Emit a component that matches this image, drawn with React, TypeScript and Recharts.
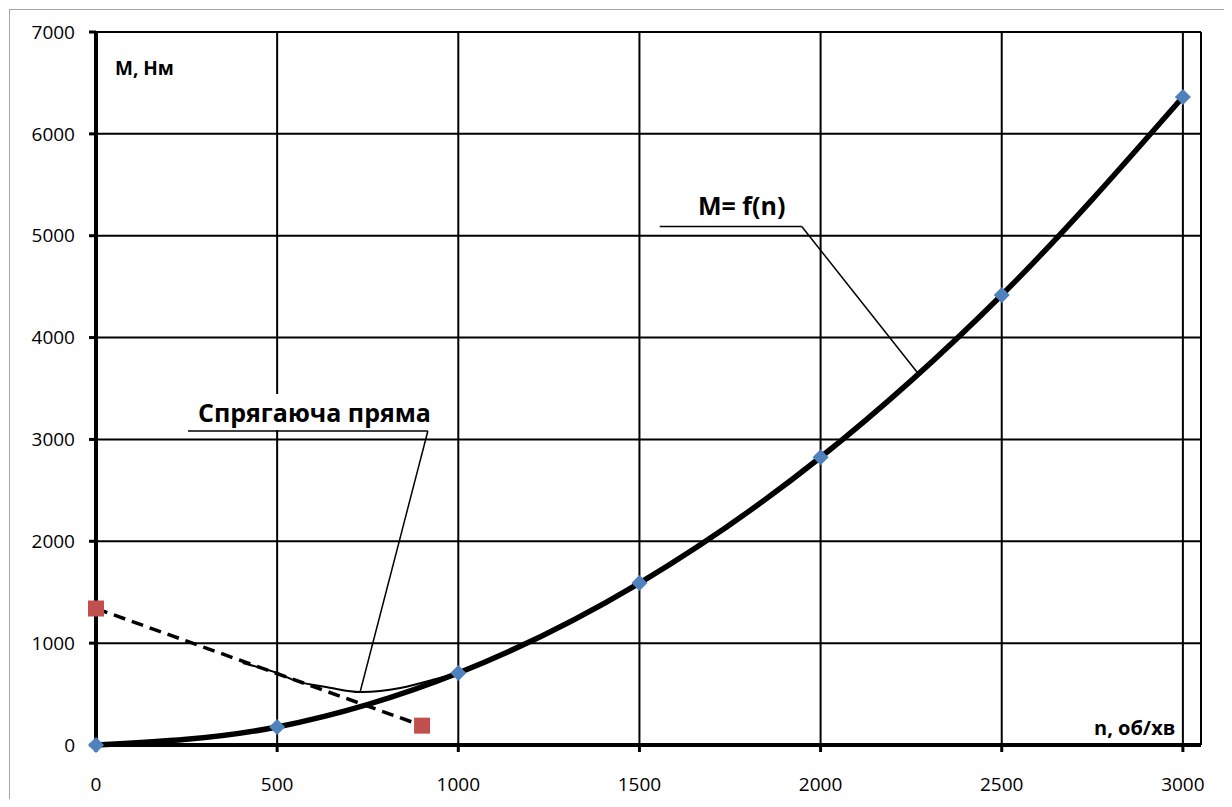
import React from 'react'
import { LineChart, Line, XAxis, YAxis, CartesianGrid, ReferenceLine } from 'recharts'

// M = f(n) points (blue diamonds)
const nValues = [0, 500, 1000, 1500, 2000, 2500, 3000]
const mValues = [0, 177, 707, 1590, 2825, 4418, 6362]

// conjugate straight line (red squares)
const lineN = [0, 900]
const lineM = [1340, 190]

// thin transition curve drawn between the straight line and M = f(n)
const transN = [405, 500, 560, 650, 730, 840, 930, 985]
const transM = [805, 707, 620, 560, 520, 560, 640, 690]

const xTicks = [0, 500, 1000, 1500, 2000, 2500, 3000]
const yTicks = [0, 1000, 2000, 3000, 4000, 5000, 6000, 7000]

// callout leader lines [x1, y1, x2, y2] in data units
const calloutMf = [[1556, 5091, 1948, 5091], [1948, 5091, 2266, 3662]]
const calloutLine = [[254, 3083, 916, 3083], [916, 3083, 729, 520]]

const curveData = nValues.map((n, i) => ({ n, m: mValues[i] }))
const straightData = lineN.map((n, i) => ({ n, m: lineM[i] }))
const transData = transN.map((n, i) => ({ n, m: transM[i] }))

const Diamond = (props: any) => {
  const { cx, cy } = props
  if (cx == null || cy == null) return null
  const r = 8
  return (
    <polygon
      points={`${cx},${cy - r} ${cx + r},${cy} ${cx},${cy + r} ${cx - r},${cy}`}
      fill="#4F81BD"
    />
  )
}

const Square = (props: any) => {
  const { cx, cy } = props
  if (cx == null || cy == null) return null
  return <rect x={cx - 8} y={cy - 8} width={16} height={16} fill="#C0504D" />
}

const labelStyle: React.CSSProperties = {
  position: 'absolute',
  fontFamily: '"Open Sans", sans-serif',
  fontWeight: 700,
  lineHeight: 1,
  whiteSpace: 'nowrap',
  color: '#000',
}

export default function App() {
  const tick = { fontSize: 19, fill: '#000', fontFamily: '"Open Sans", sans-serif' }
  return (
    <div
      style={{
        position: 'relative',
        marginTop: 1,
        marginLeft: 1,
        width: 1214,
        height: 789,
        borderTop: '1px solid #a6a6a6',
        borderLeft: '1px solid #a6a6a6',
        overflow: 'hidden',
        background: '#fff',
      }}
    >
      <LineChart
        width={1214}
        height={789}
        margin={{ top: 22, right: 23, left: 26, bottom: 14 }}
        style={{ fontFamily: '"Open Sans", sans-serif' }}
      >
        <CartesianGrid stroke="#000" strokeWidth={2} />
        <XAxis
          type="number"
          dataKey="n"
          domain={[0, 3050]}
          ticks={xTicks}
          height={40}
          tick={tick}
          tickSize={7}
          tickMargin={26}
          axisLine={{ stroke: '#000', strokeWidth: 4 }}
          tickLine={{ stroke: '#000', strokeWidth: 3 }}
        />
        <YAxis
          type="number"
          dataKey="m"
          domain={[0, 7000]}
          ticks={yTicks}
          width={60}
          tick={tick}
          tickSize={7}
          tickMargin={14}
          axisLine={{ stroke: '#000', strokeWidth: 4 }}
          tickLine={{ stroke: '#000', strokeWidth: 3 }}
        />
        {calloutMf.concat(calloutLine).map((s, i) => (
          <ReferenceLine
            key={i}
            segment={[{ x: s[0], y: s[1] }, { x: s[2], y: s[3] }]}
            stroke="#000"
            strokeWidth={1.5}
          />
        ))}
        <Line
          data={straightData}
          dataKey="m"
          type="linear"
          stroke="#000"
          strokeWidth={3.5}
          strokeDasharray="12 7"
          dot={<Square />}
          activeDot={false}
          isAnimationActive={false}
        />
        <Line
          data={transData}
          dataKey="m"
          type="natural"
          stroke="#000"
          strokeWidth={2}
          dot={false}
          activeDot={false}
          isAnimationActive={false}
        />
        <Line
          data={curveData}
          dataKey="m"
          type="monotone"
          stroke="#000"
          strokeWidth={5.5}
          dot={<Diamond />}
          activeDot={false}
          isAnimationActive={false}
        />
      </LineChart>
      <div style={{ ...labelStyle, left: 105, top: 49, fontSize: 19 }}>M, Нм</div>
      <div style={{ ...labelStyle, left: 1084, top: 708, fontSize: 20 }}>n, об/хв</div>
      <div
        style={{
          ...labelStyle,
          left: 180,
          top: 384,
          fontSize: 25,
          lineHeight: '36px',
          paddingLeft: 8,
          paddingRight: 4,
          background: '#fff',
        }}
      >
        Спрягаюча пряма
      </div>
      <div style={{ ...labelStyle, left: 688, top: 183, fontSize: 25 }}>M= f(n)</div>
    </div>
  )
}
